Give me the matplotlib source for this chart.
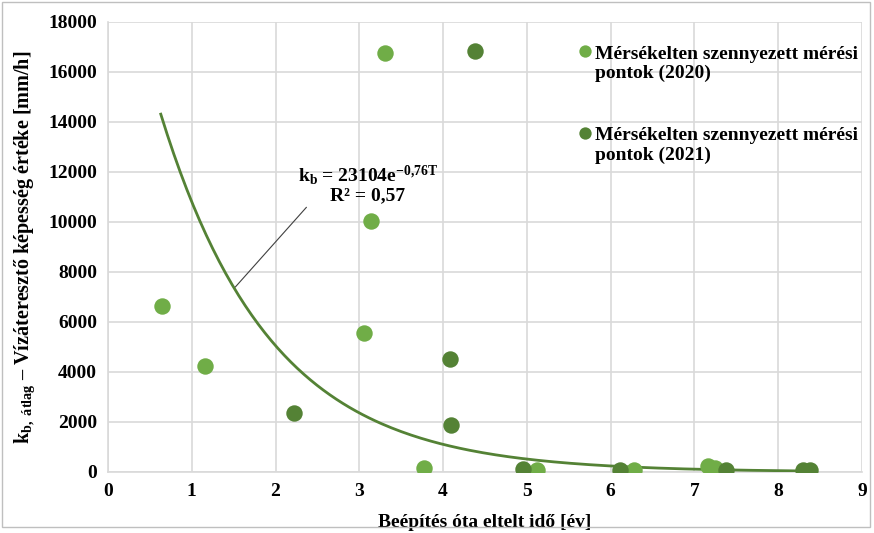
import numpy as np
import matplotlib.pyplot as plt
from matplotlib.patches import Rectangle

t_2020 = [0.65, 1.16, 3.06, 3.14, 3.31, 3.77, 5.12, 6.28, 7.16, 7.24]
kb_2020 = [6650, 4230, 5560, 10030, 16760, 150, 80, 70, 250, 180]
t_2021 = [2.22, 4.08, 4.10, 4.38, 4.95, 6.11, 7.38, 8.30, 8.38]
kb_2021 = [2360, 4540, 1890, 16840, 120, 100, 70, 90, 70]

# exponential trend  kb = a * exp(b*T)
fit_a = 23104
fit_b = -0.76
t_fit = np.linspace(0.63, 8.35, 200)

light = '#70AD47'
dark = '#548235'

plt.rcParams['font.family'] = 'Liberation Serif'
plt.rcParams['font.weight'] = 'bold'
plt.rcParams['axes.labelweight'] = 'bold'
plt.rcParams['mathtext.fontset'] = 'custom'
plt.rcParams['mathtext.rm'] = 'Liberation Serif:bold'
plt.rcParams['mathtext.it'] = 'Liberation Serif:bold'
plt.rcParams['mathtext.bf'] = 'Liberation Serif:bold'
plt.rcParams['axes.unicode_minus'] = False

fig = plt.figure(figsize=(8.74, 5.33), dpi=100)
ax = fig.add_axes([108 / 874, 1 - 472 / 533, 754 / 874, 450 / 533])

ax.plot(t_fit, fit_a * np.exp(fit_b * t_fit), color=dark, lw=2, zorder=3)
ax.scatter(t_2020, kb_2020, s=140, color=light, zorder=4, linewidths=0,
           label='Mérsékelten szennyezett mérési\npontok (2020)')
ax.scatter(t_2021, kb_2021, s=140, color=dark, zorder=4, linewidths=0,
           label='Mérsékelten szennyezett mérési\npontok (2021)')

ax.set_xlim(0, 9)
ax.set_ylim(0, 18000)
ax.set_xticks(range(0, 10))
ax.set_yticks(range(0, 18001, 2000))
ax.grid(color='#d9d9d9', lw=1.2)
ax.set_axisbelow(True)
for s in ['top', 'right']:
    ax.spines[s].set_visible(False)
for s in ['left', 'bottom']:
    ax.spines[s].set_color('#d9d9d9')
    ax.spines[s].set_linewidth(1.2)
ax.tick_params(length=0, labelsize=14, pad=8)

ax.set_xlabel('Beépítés óta eltelt idő [év]', fontsize=14, labelpad=10)
ax.set_ylabel(r'k$\mathregular{_{b,\ átlag}}$ – Vízáteresztő képesség értéke [mm/h]',
              fontsize=14.5, labelpad=8)

# trendline label with leader line
ax.annotate(r'k$\mathregular{_b}$ = 23104e$\mathregular{^{-0{,}76T}}$' + '\n' + r'R² = 0,57',
            xy=(1.52, 7400), xytext=(3.1, 10700), ha='center', va='bottom',
            fontsize=14, linespacing=1.05,
            arrowprops=dict(arrowstyle='-', color='#404040', lw=0.8,
                            shrinkA=0, shrinkB=0, relpos=(0.08, 0.0)))

ax.legend(loc='upper left', bbox_to_anchor=(0.61, 0.965), frameon=False,
          fontsize=14, handletextpad=0.0, handlelength=1.0, labelspacing=2.3,
          markerscale=0.75, borderaxespad=0, scatteryoffsets=[1.43])

fig.patches.append(Rectangle((2 / 874, 6 / 533), 868 / 874, 525 / 533,
                             transform=fig.transFigure, fill=False,
                             edgecolor='#bfbfbf', lw=1))

fig.savefig('out.png', dpi=100)
